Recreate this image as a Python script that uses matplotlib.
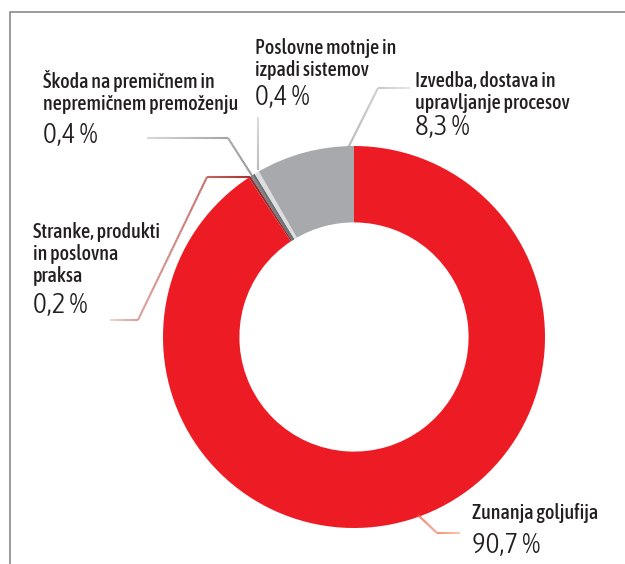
import numpy as np
import matplotlib.pyplot as plt
from matplotlib.lines import Line2D
from matplotlib.collections import LineCollection
from matplotlib.colors import to_rgba

# slice data, clockwise from 12 o'clock
labels = ["Zunanja goljufija", "Stranke, produkti\nin poslovna\npraksa",
          "Škoda na premičnem in\nnepremičnem premoženju",
          "Poslovne motnje in\nizpadi sistemov",
          "Izvedba, dostava in\nupravljanje procesov"]
values = [90.7, 0.2, 0.4, 0.4, 8.3]
pct_text = ["90,7 %", "0,2 %", "0,4 %", "0,4 %", "8,3 %"]
colors = ["#ed1c24", "#9b2a2a", "#6d6e71", "#dcdddf", "#a7a9ac"]

W, H = 625, 564

fig = plt.figure(figsize=(W / 100, H / 100), dpi=100)
ax = fig.add_axes([0, 0, 1, 1])

# frame (top and left edge)
ax.add_line(Line2D([10, 10, W], [0, H - 12, H - 12], color="#8a8a8a", lw=1.2))

cx, cy, R = 354, H - 337, 191
ax.pie(values, colors=colors, startangle=90, counterclock=False,
       center=(cx, cy), radius=R, frame=True,
       wedgeprops=dict(width=R * 0.4, edgecolor="none"))
ax.set_xlim(0, W)
ax.set_ylim(0, H)
ax.set_aspect("equal")
ax.axis("off")

def y(v):
    return H - v

def fade_line(xs, ys, c1, c2, n=80):
    # polyline fading from c1 (donut end) to c2 (label end)
    pts = []
    for i in range(len(xs) - 1):
        t = np.linspace(0, 1, n, endpoint=False)
        pts.append(np.column_stack([xs[i] + (xs[i + 1] - xs[i]) * t,
                                    ys[i] + (ys[i + 1] - ys[i]) * t]))
    pts.append(np.array([[xs[-1], ys[-1]]]))
    pts = np.vstack(pts)
    pts[:, 1] = H - pts[:, 1]
    segs = np.stack([pts[:-1], pts[1:]], axis=1)
    a, b = np.array(to_rgba(c1)), np.array(to_rgba(c2))
    f = np.linspace(0, 1, len(segs))[:, None]
    lc = LineCollection(segs, colors=a + (b - a) * f, linewidths=1.5, capstyle="butt")
    ax.add_collection(lc)

# leader lines (x, y in image pixels), donut end first
leaders = [
    ([418, 437, 460], [515, 533, 533], "#ee5a3a", "#fbc8b8"),
    ([250, 207, 138, 110], [177, 177, 320, 320], "#a8322e", "#f3d3cf"),
    ([293, 228, 147], [240, 138, 138], "#6d6e71", "#d8d9db"),
    ([258, 258], [170, 117], "#b8b9bc", "#dcdddf"),
    ([348, 378, 410], [148, 88, 88], "#a7a9ac", "#e6e7e8"),
]
for xs, ys, c1, c2 in leaders:
    fade_line(xs, ys, c1, c2)

# text positions (left x, baseline of first label line, baseline of percentage)
text_pos = [(472, 519, 553), (33, 238, 313), (43, 88, 143), (255, 54, 105), (415, 87, 135)]
lab_font = dict(family=["Asap Condensed", "DejaVu Sans"], fontsize=14.5,
                color="#231f20", fontweight=500)
pct_font = dict(family=["Asap Condensed", "DejaVu Sans"], fontsize=21,
                color="#231f20", fontweight=300)
line_gap = 22
for lab, pt, (tx, ly, py) in zip(labels, pct_text, text_pos):
    for i, row in enumerate(lab.split("\n")):
        ax.text(tx, y(ly + i * line_gap), row, ha="left", va="baseline", **lab_font)
    ax.text(tx, y(py), pt, ha="left", va="baseline", **pct_font)

fig.savefig("out.png", dpi=100)
